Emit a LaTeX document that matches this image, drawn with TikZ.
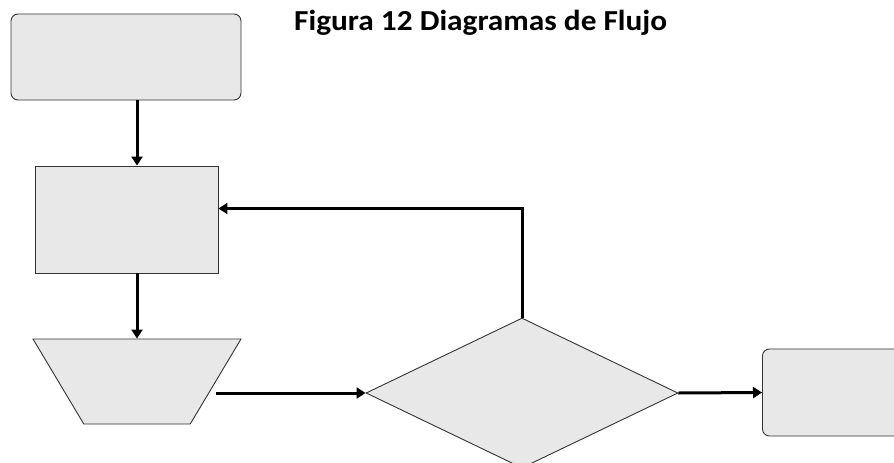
\documentclass[tikz,border=0pt]{standalone}
\usepackage{fontspec}
\setmainfont{Carlito}
\usetikzlibrary{shapes.geometric,arrows.meta,calc}

\begin{document}
\begin{tikzpicture}[x=1pt,y=-1pt,
    blockbox/.style={draw=black!80,line width=0.9pt,fill=black!9,inner sep=0pt},
    flow/.style={line width=3pt,-{Triangle[length=9pt,width=11pt]}}]
  \useasboundingbox (0,0) rectangle (894,463);
  \clip (0,0) rectangle (894,463);
  % bloques del diagrama
  \node[blockbox,rounded corners=7pt,minimum width=230pt,minimum height=86pt] (inicio) at (126,57) {};
  \node[blockbox,minimum width=183pt,minimum height=107pt] (proceso) at (126.5,219.5) {};
  \node[blockbox,trapezium,trapezium angle=64.5,shape border rotate=180,trapezium stretches=true,
        inner sep=2pt,minimum width=208pt,minimum height=85pt] (entrada) at (137,381.5) {};
  \node[blockbox,diamond,minimum width=312pt,minimum height=150pt] (decision) at (522,393) {};
  \node[blockbox,rounded corners=7pt,minimum width=180pt,minimum height=87pt,anchor=west] (fin) at (762,392.5) {};
  \node[anchor=base west,xscale=1.08,inner sep=0pt,font=\bfseries\fontsize{29}{31}\selectfont] (titulo) at (294,30.5) {Figura 12 Diagramas de Flujo};
  % conectores
  \draw[flow] (inicio.south -| entrada.north) -- (proceso.north -| entrada.north);
  \draw[flow] (proceso.south -| entrada.north) -- (entrada.north);
  \draw[flow] (decision.west -| entrada.east) -- (decision.west);
  \draw[flow] (decision.east) -- (fin.west);
  \draw[flow] (decision.north) |- ($(proceso.east)+(0,-11)$);
\end{tikzpicture}
\end{document}
